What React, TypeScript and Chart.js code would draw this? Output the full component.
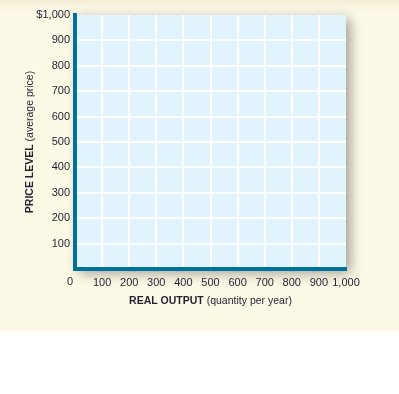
import React, { useEffect, useRef } from "react";
import { Chart, registerables } from "chart.js";

Chart.register(...registerables);

const xTicks = [0, 100, 200, 300, 400, 500, 600, 700, 800, 900, 1000];
const xTickLabels = ["0", "100", "200", "300", "400", "500", "600", "700", "800", "900", "1,000"];
const yTicks = [0, 100, 200, 300, 400, 500, 600, 700, 800, 900, 1000];
const yTickLabels = ["", "100", "200", "300", "400", "500", "600", "700", "800", "900", "$1,000"];
const xTitleBold = "REAL OUTPUT";
const xTitleRest = " (quantity per year)";
const yTitleBold = "PRICE LEVEL";
const yTitleRest = " (average price)";

const FONT = "'Liberation Sans', Arial, Helvetica, sans-serif";
const TEXT = "#1f2030";
const AXIS = "#00719b";
const PLOT_BG = "#e1f3fd";

const backgroundPlugin = {
  id: "bgShadow",
  beforeDraw(chart: any) {
    const { ctx, chartArea: a, width } = chart;
    ctx.save();
    const g = ctx.createLinearGradient(0, 0, 0, 16);
    g.addColorStop(0, "#f3ecd3");
    g.addColorStop(1, "rgba(253,249,231,0)");
    ctx.fillStyle = g;
    ctx.fillRect(0, 0, width, 16);
    ctx.restore();
    ctx.save();
    ctx.shadowColor = "rgba(0,0,0,0.38)";
    ctx.shadowBlur = 12;
    ctx.shadowOffsetX = 4;
    ctx.shadowOffsetY = 4;
    ctx.fillStyle = PLOT_BG;
    ctx.fillRect(a.left, a.top, a.right - a.left, a.bottom - a.top);
    ctx.restore();
  },
  afterDraw(chart: any) {
    const { ctx, chartArea: a } = chart;
    const size = 10.5;
    const bold = `bold ${size}px ${FONT}`;
    const norm = `${size}px ${FONT}`;
    const drawMixed = (b: string, r: string) => {
      ctx.font = bold;
      const wb = ctx.measureText(b).width;
      ctx.font = norm;
      const wr = ctx.measureText(r).width;
      const start = -(wb + wr) / 2;
      ctx.textAlign = "left";
      ctx.textBaseline = "middle";
      ctx.fillStyle = TEXT;
      ctx.font = bold;
      ctx.fillText(b, start, 0);
      ctx.font = norm;
      ctx.fillText(r, start + wb, 0);
    };
    ctx.save();
    ctx.translate((a.left + a.right) / 2, 301);
    drawMixed(xTitleBold, xTitleRest);
    ctx.restore();
    ctx.save();
    ctx.translate(30, (a.top + a.bottom) / 2);
    ctx.rotate(-Math.PI / 2);
    drawMixed(yTitleBold, yTitleRest);
    ctx.restore();
    // origin label, set slightly left of the axis line as in the reference
    const xs = chart.scales.x;
    ctx.save();
    ctx.font = `11px ${FONT}`;
    ctx.fillStyle = TEXT;
    ctx.textAlign = "center";
    ctx.textBaseline = "middle";
    ctx.fillText(xTickLabels[0], xs.getPixelForValue(xTicks[0]) - 5, a.bottom + 13);
    ctx.restore();
  },
};

export default function App() {
  const ref = useRef<HTMLCanvasElement | null>(null);
  useEffect(() => {
    document.body.style.margin = "0";
    const canvas = ref.current!;
    const chart = new Chart(canvas, {
      type: "scatter",
      data: { datasets: [{ data: [], showLine: false }] },
      options: {
        animation: false,
        responsive: false,
        maintainAspectRatio: false,
        events: [],
        layout: { padding: { top: 15, right: 53, left: 0, bottom: 0 } },
        plugins: { legend: { display: false }, tooltip: { enabled: false }, title: { display: false } },
        scales: {
          x: {
            type: "linear",
            min: 0,
            max: 1000,
            afterFit: (s: any) => {
              s.height = 125;
            },
            afterBuildTicks: (s: any) => {
              s.ticks = xTicks.map((v) => ({ value: v }));
            },
            ticks: {
              padding: 7,
              color: TEXT,
              font: { size: 11, family: FONT },
              maxRotation: 0,
              autoSkip: false,
              callback: (v: any) => (Number(v) === 0 ? "" : xTickLabels[xTicks.indexOf(Number(v))] ?? ""),
            },
            grid: {
              drawTicks: false,
              lineWidth: 2,
              color: (c: any) => (c.tick && (c.tick.value === 0 || c.tick.value === 1000) ? "rgba(0,0,0,0)" : "#ffffff"),
            },
            border: { display: true, color: AXIS, width: 4 },
          },
          y: {
            type: "linear",
            min: 0,
            max: 1000,
            afterFit: (s: any) => {
              s.width = 75;
            },
            afterBuildTicks: (s: any) => {
              s.ticks = yTicks.map((v) => ({ value: v }));
            },
            ticks: {
              padding: 5,
              color: TEXT,
              font: { size: 11, family: FONT },
              autoSkip: false,
              callback: (v: any) => yTickLabels[yTicks.indexOf(Number(v))] ?? "",
            },
            grid: {
              drawTicks: false,
              lineWidth: 2,
              color: (c: any) => (c.tick && (c.tick.value === 0 || c.tick.value === 1000) ? "rgba(0,0,0,0)" : "#ffffff"),
            },
            border: { display: true, color: AXIS, width: 4 },
          },
        },
      },
      plugins: [backgroundPlugin],
    } as any);
    return () => chart.destroy();
  }, []);
  return (
    <div
      style={{
        position: "absolute",
        left: 0,
        top: 0,
        width: 399,
        height: 394,
        background: "linear-gradient(to bottom, #fdf9e7 0px, #fdf9e7 331px, #ffffff 331px, #ffffff 394px)",
      }}
    >
      <canvas ref={ref} width={399} height={394} style={{ display: "block", width: 399, height: 394 }} />
    </div>
  );
}
